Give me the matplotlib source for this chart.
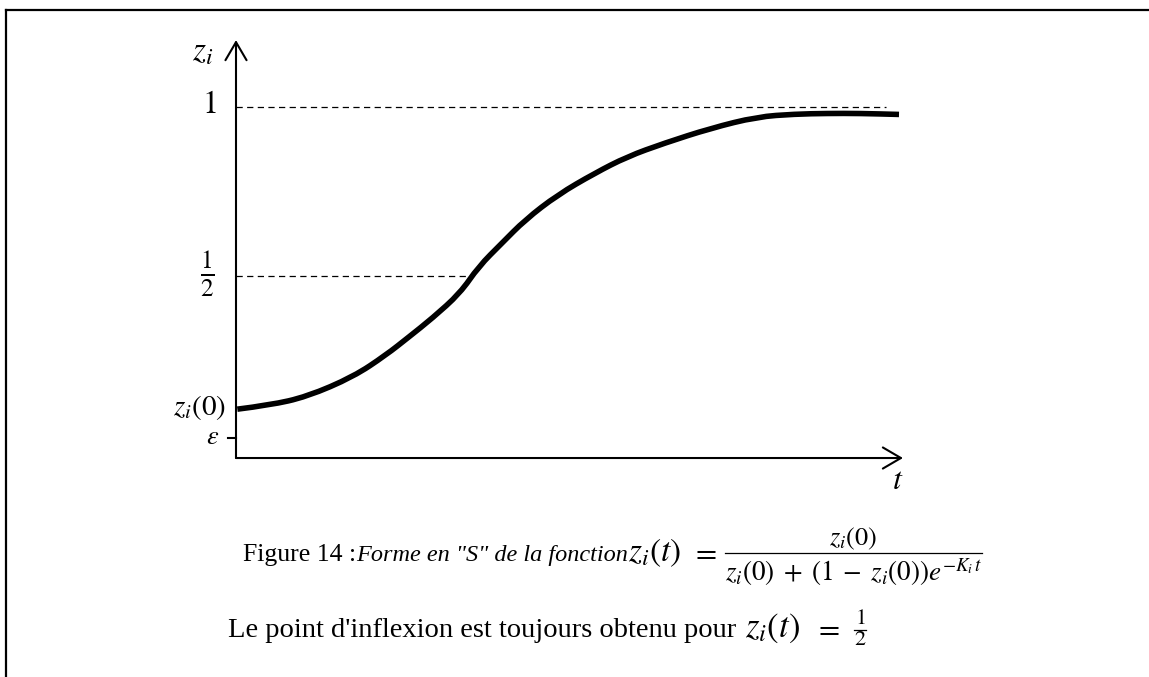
import matplotlib
matplotlib.use('Agg')
import matplotlib.pyplot as plt
from matplotlib.lines import Line2D
from matplotlib.path import Path
from matplotlib.patches import PathPatch

W, H = 1149, 677
plt.rcParams['mathtext.fontset'] = 'stix'
plt.rcParams['font.family'] = ['Liberation Serif', 'DejaVu Serif']

# S-curve (t in arbitrary units, z between 0 and 1)
t_vals = [0.02, 0.51, 1.07, 1.77, 2.26, 2.61, 2.96, 3.38, 3.66, 4.01, 4.36,
          4.85, 5.41, 5.90, 6.46, 7.16, 7.86, 8.43, 8.92, 9.41, 10.0]
z_vals = [0.106, 0.118, 0.143, 0.202, 0.266, 0.320, 0.375, 0.449, 0.528, 0.597, 0.666,
          0.740, 0.804, 0.853, 0.893, 0.937, 0.971, 0.979, 0.981, 0.981, 0.978]

# reference levels on the z axis
tick_vals = [1.0, 0.5, 0.106, 0.02]
tick_labels = [r'$1$', r'$\frac{1}{2}$', r'$z_i(0)$', r'$\varepsilon$']
dash_ends = [9.80, 3.55, None, None]   # t where the dashed guide stops

# axis extent
t_axis_end = 10.06
z_axis_top = 1.198
z_axis_bottom = -0.0385

# pixel mapping: t=0 at x=236 px, 66.3 px per unit; z=0 at y=445 px, 338 px per unit
px_per_t, x0 = 66.3, 236
px_per_z, y0 = 338, 445

fig = plt.figure(figsize=(W / 100, H / 100), dpi=100)
ax = fig.add_axes([0, 0, 1, 1])
ax.set_xlim(-x0 / px_per_t, (W - x0) / px_per_t)
ax.set_ylim(-(H - y0) / px_per_z, y0 / px_per_z)
ax.axis('off')

# frame (left and top edges of a box)
fig.add_artist(Line2D([6 / W, 6 / W], [0, 1 - 10 / H], color='black', lw=1.6))
fig.add_artist(Line2D([6 / W, 1], [1 - 10 / H, 1 - 10 / H], color='black', lw=1.6))

# axes with open arrow heads
arrow = dict(arrowstyle='->,head_length=0.65,head_width=0.38', lw=1.5, color='black',
             shrinkA=0, shrinkB=0, mutation_scale=20)
ax.annotate('', xy=(0, z_axis_top), xytext=(0, z_axis_bottom), arrowprops=arrow)
ax.annotate('', xy=(t_axis_end, z_axis_bottom), xytext=(0, z_axis_bottom), arrowprops=arrow)

# dashed guides
for zv, te in zip(tick_vals, dash_ends):
    if te is not None:
        ax.plot([0, te], [zv, zv], color='black', lw=0.9, dashes=(5, 3.5))

# tick labels
ax.annotate(tick_labels[0], xy=(0, tick_vals[0]), xytext=(-19, 1), textcoords='offset points',
            ha='center', va='center', fontsize=23)
ax.annotate(tick_labels[1], xy=(0, tick_vals[1]), xytext=(-21, 2), textcoords='offset points',
            ha='center', va='center', fontsize=26)
ax.annotate(tick_labels[2], xy=(0, tick_vals[2]), xytext=(-7, 1), textcoords='offset points',
            ha='right', va='center', fontsize=21)
ax.annotate(tick_labels[3], xy=(0, tick_vals[3]), xytext=(-17, 0), textcoords='offset points',
            ha='center', va='center', fontsize=19)
ax.plot([-8 / px_per_t, 0], [tick_vals[3], tick_vals[3]], color='black', lw=1.5)

# axis names
ax.annotate(r'$z_i$', xy=(0, z_axis_top), xytext=(-24, -9), textcoords='offset points',
            ha='center', va='center', fontsize=24)
ax.annotate(r'$t$', xy=(t_axis_end, z_axis_bottom), xytext=(-4, -17), textcoords='offset points',
            ha='center', va='center', fontsize=23)

# the curve: the read points used as quadratic Bezier controls so it draws smooth
pts = list(zip(t_vals, z_vals))
verts, codes = [pts[0]], [Path.MOVETO]
for i in range(1, len(pts) - 1):
    mid = ((pts[i][0] + pts[i + 1][0]) / 2, (pts[i][1] + pts[i + 1][1]) / 2)
    verts += [pts[i], mid]
    codes += [Path.CURVE3, Path.CURVE3]
verts.append(pts[-1])
codes.append(Path.LINETO)
ax.add_patch(PathPatch(Path(verts, codes), fill=False, lw=4, edgecolor='black',
                       capstyle='butt', joinstyle='round'))

# caption, drawn as runs of text placed one after another
renderer = fig.canvas.get_renderer()


def put(x_px, y_px, s, ha='left', **kw):
    txt = fig.text(x_px / W, 1 - y_px / H, s, ha=ha, va='baseline', **kw)
    return txt.get_window_extent(renderer).width


def put_run(x_px, y_px, pieces):
    x = x_px
    for s, kw, gap in pieces:
        x += put(x, y_px, s, **kw) + gap
    return x


# line 1
x = put_run(243, 561, [
    ('Figure 14 :', dict(fontsize=18.5), 0),
    ('Forme en "S" de la fonction', dict(fontsize=17.5, style='italic'), 0),
    (r'$z_i(t)$', dict(fontsize=24), 10),
    (r'$=$', dict(fontsize=22), 8),
])
den_w = put(x, 581, r'$z_i(0)\;+\;\left(1\;-\;z_i(0)\right)e^{-K_i\,t}$', fontsize=19.5)
put(x + den_w / 2, 545, r'$z_i(0)$', ha='center', fontsize=19)
fig.add_artist(Line2D([x / W, (x + den_w) / W], [1 - 553 / H, 1 - 553 / H], color='black', lw=0.9))

# line 2
x = put_run(228, 637, [
    ("Le point d'inflexion est toujours obtenu pour", dict(fontsize=20.5), 9),
    (r'$z_i(t)$', dict(fontsize=25), 14),
    (r'$=$', dict(fontsize=22), 12),
])
put(x + 8, 624, r'$1$', ha='center', fontsize=16)
put(x + 8, 645, r'$2$', ha='center', fontsize=16)
fig.add_artist(Line2D([(x + 2) / W, (x + 14) / W], [1 - 630 / H, 1 - 630 / H], color='black', lw=0.9))

fig.savefig('out.png', dpi=100)
